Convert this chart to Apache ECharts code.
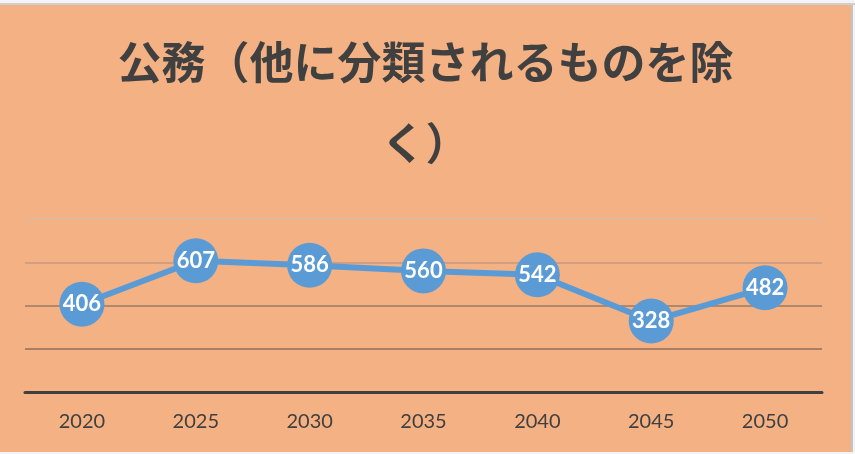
<!DOCTYPE html>
<html><head><meta charset="utf-8">
<script src="https://cdn.jsdelivr.net/npm/echarts@6/dist/echarts.min.js"></script>
<style>
html,body{margin:0;padding:0;background:#f4f4f4;width:855px;height:454px;overflow:hidden;}
#top{position:absolute;left:0;top:3px;width:855px;height:2px;background:#cfcfcf;}
#chart{position:absolute;left:0;top:5px;width:851px;height:447px;background:#F4B183;border-right:2px solid #c4c4c4;}
</style></head>
<body><div id="top"></div><div id="chart"></div>
<script>
const titleText = '公務（他に分類されるものを除\nく）';
const categories = ['2020','2025','2030','2035','2040','2045','2050'];
const values = [406,607,586,560,542,328,482];
const yMin = 0, yMax = 800, yInterval = 200;

const chart = echarts.init(document.getElementById('chart'), null, {renderer:'canvas'});
chart.setOption({
  backgroundColor: '#F4B183',
  animation: false,
  title: {
    text: titleText,
    left: 'center',
    top: 17,
    padding: 0,
    textStyle: {
      fontFamily: '"Noto Sans CJK JP"',
      fontWeight: 'bold',
      fontSize: 44,
      lineHeight: 81,
      color: '#404040'
    }
  },
  grid: {left: 25, right: 29, top: 214, bottom: 60},
  xAxis: {
    type: 'category',
    data: categories,
    boundaryGap: true,
    axisLine: {show: true, lineStyle: {color: '#404040', width: 3}},
    axisTick: {show: false},
    axisLabel: {color: '#404040', fontSize: 20, fontFamily: 'Lato', margin: 20}
  },
  yAxis: {
    type: 'value',
    min: yMin, max: yMax, interval: yInterval,
    axisLine: {show: false},
    axisTick: {show: false},
    axisLabel: {show: false},
    splitLine: {show: true, lineStyle: {color: ['#404040','#8f6e5a','#9c7b66','#c49a80','#dcbba3'], width: 1.5}}
  },
  series: [{
    type: 'line',
    data: values,
    symbol: 'circle',
    symbolSize: 45,
    lineStyle: {color: '#5B9BD5', width: 6},
    itemStyle: {color: '#5B9BD5'},
    label: {
      show: true,
      position: 'inside',
      color: '#ffffff',
      fontSize: 22,
      fontWeight: 'bold',
      fontFamily: 'Lato'
    }
  }]
});
</script></body></html>
